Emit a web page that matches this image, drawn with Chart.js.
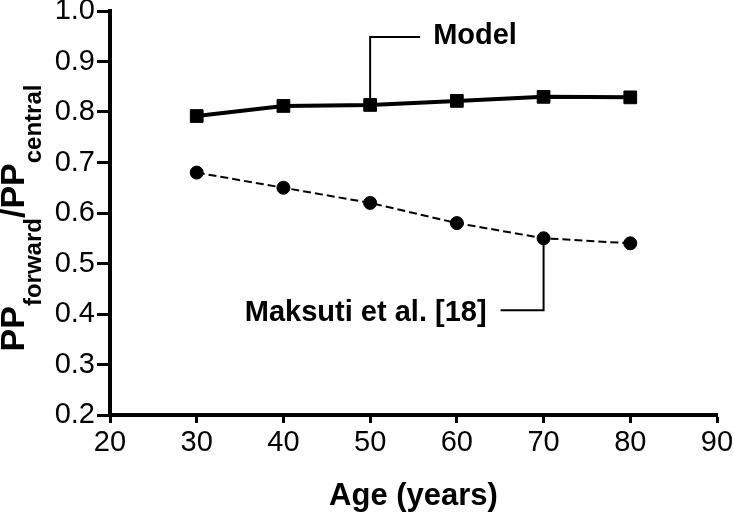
<!DOCTYPE html>
<html>
<head>
<meta charset="utf-8">
<script src="https://cdn.jsdelivr.net/npm/chart.js@4.4.1/dist/chart.umd.min.js"></script>
<style>
  html, body { margin: 0; padding: 0; background: #fff; }
  #wrap { width: 733px; height: 518px; }
</style>
</head>
<body>
<div id="wrap"><canvas id="ratioChart"></canvas></div>
<script>
// --- Data ---
const ages = [30, 40, 50, 60, 70, 80];
const modelRatio = [0.792, 0.812, 0.814, 0.822, 0.830, 0.829];
const maksutiRatio = [0.68, 0.65, 0.62, 0.58, 0.55, 0.54];
const xTicks = [20, 30, 40, 50, 60, 70, 80, 90];
const yTicks = [0.2, 0.3, 0.4, 0.5, 0.6, 0.7, 0.8, 0.9, 1.0];
const seriesLabels = ['Model', 'Maksuti et al. [18]'];

const FONT = "'Liberation Sans', Arial, Helvetica, sans-serif";
Chart.defaults.font.family = FONT;
Chart.defaults.color = '#000';

// callouts: which point the leader line starts from, and where it bends
const callouts = [
    { series: 0, index: 2, dy: -68, dx: 50 },
    { series: 1, index: 4, dy: 72, dx: -43 }
];

// y title with subscripts + leader-line labels
const extrasPlugin = {
    id: 'extras',
    afterDatasetsDraw(chart) {
        const ctx = chart.ctx;
        ctx.save();
        ctx.strokeStyle = '#000';
        ctx.fillStyle = '#000';
        ctx.lineWidth = 2;
        ctx.font = 'bold 29px ' + FONT;
        ctx.textBaseline = 'middle';
        callouts.forEach(c => {
            const p = chart.getDatasetMeta(c.series).data[c.index];
            const ey = p.y + c.dy;
            const ex = p.x + c.dx;
            ctx.beginPath();
            ctx.moveTo(p.x, p.y);
            ctx.lineTo(p.x, ey);
            ctx.lineTo(ex, ey);
            ctx.stroke();
            if (c.dx > 0) {
                ctx.textAlign = 'left';
                ctx.fillText(seriesLabels[c.series], ex + 13, ey - 1);
            } else {
                ctx.textAlign = 'right';
                ctx.fillText(seriesLabels[c.series], ex - 14, ey + 3);
            }
        });
        ctx.restore();
    },
    afterDraw(chart) {
        const ctx = chart.ctx;
        const area = chart.chartArea;
        const parts = [
            { t: 'PP', sub: false },
            { t: 'forward', sub: true },
            { t: '/PP', sub: false },
            { t: 'central', sub: true }
        ];
        ctx.save();
        ctx.fillStyle = '#000';
        ctx.textBaseline = 'alphabetic';
        ctx.textAlign = 'left';
        let total = 0;
        parts.forEach(p => {
            ctx.font = (p.sub ? 'bold 24px ' : 'bold 34px ') + FONT;
            p.w = ctx.measureText(p.t).width;
            total += p.w;
        });
        ctx.translate(24, (area.top + area.bottom) / 2 + 5);
        ctx.rotate(-Math.PI / 2);
        let x = -total / 2;
        parts.forEach(p => {
            ctx.font = (p.sub ? 'bold 24px ' : 'bold 34px ') + FONT;
            ctx.fillText(p.t, x, p.sub ? 17 : 0);
            x += p.w;
        });
        ctx.restore();
    }
};

const ctx = document.getElementById('ratioChart').getContext('2d');
new Chart(ctx, {
    type: 'line',
    data: {
        labels: ages,
        datasets: [
            {
                label: seriesLabels[0],
                data: ages.map((a, i) => ({ x: a, y: modelRatio[i] })),
                borderColor: '#000', backgroundColor: '#000',
                borderWidth: 4, pointStyle: 'rect', pointRadius: 9,
                pointBorderWidth: 1, tension: 0
            },
            {
                label: seriesLabels[1],
                data: ages.map((a, i) => ({ x: a, y: maksutiRatio[i] })),
                borderColor: '#000', backgroundColor: '#000',
                borderWidth: 2, borderDash: [8, 4], pointStyle: 'circle',
                pointRadius: 6.5, pointBorderWidth: 1, tension: 0
            }
        ]
    },
    options: {
        responsive: true,
        maintainAspectRatio: false,
        animation: false,
        layout: { padding: { left: 0, right: 16, top: 11, bottom: 0 } },
        plugins: { legend: { display: false }, tooltip: { enabled: false } },
        scales: {
            x: {
                type: 'linear', min: 20, max: 90,
                afterBuildTicks: s => { s.ticks = xTicks.map(v => ({ value: v })); },
                afterFit: s => { s.height = 103; s.paddingLeft = 0; s.paddingRight = 0; },
                border: { display: true, color: '#000', width: 4 },
                grid: { drawOnChartArea: false, drawTicks: true, tickLength: 8, tickWidth: 3, tickColor: '#000' },
                ticks: { color: '#000', font: { size: 29 }, padding: 3, maxRotation: 0 },
                title: { display: true, text: 'Age (years)', color: '#000', font: { size: 31, weight: 'bold' }, padding: { top: 0, bottom: 3 } }
            },
            y: {
                type: 'linear', min: 0.2, max: 1.0,
                afterBuildTicks: s => { s.ticks = yTicks.map(v => ({ value: v })); },
                afterFit: s => { s.width = 110; s.paddingTop = 0; s.paddingBottom = 0; },
                border: { display: true, color: '#000', width: 4 },
                grid: { drawOnChartArea: false, drawTicks: true, tickLength: 13, tickWidth: 3, tickColor: '#000' },
                ticks: { color: '#000', font: { size: 29 }, padding: 2, callback: v => v.toFixed(1) },
                title: { display: false }
            }
        }
    },
    plugins: [extrasPlugin]
});
</script>
</body>
</html>
